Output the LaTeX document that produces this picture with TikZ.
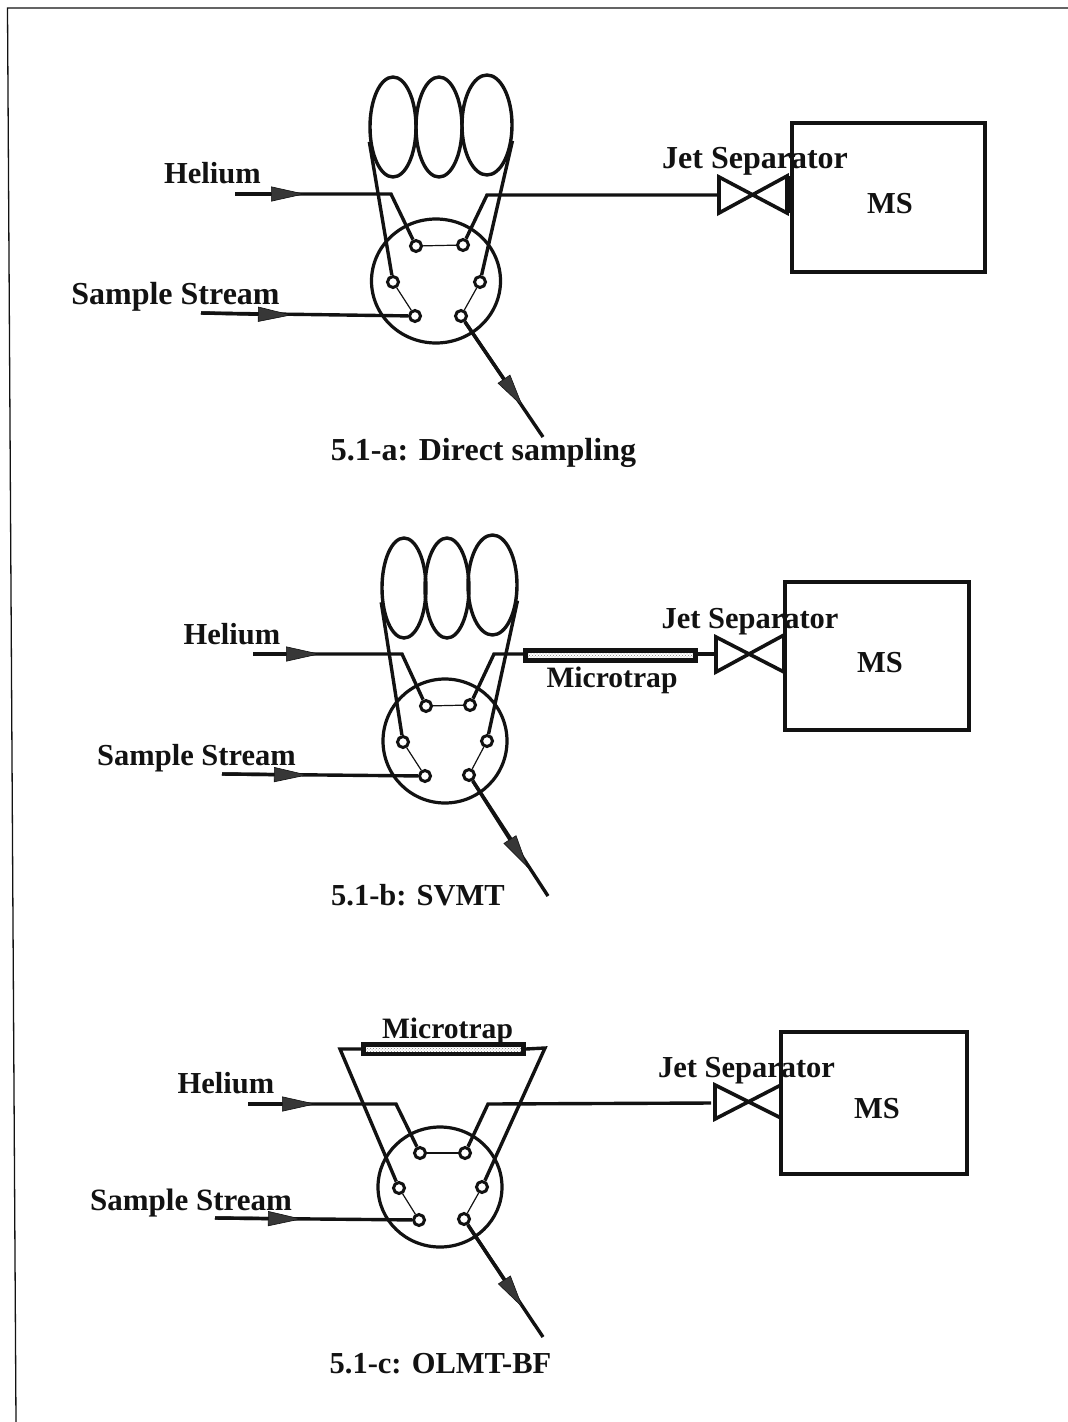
\documentclass[tikz,border=0pt]{standalone}
\usepackage{fontspec}
\setmainfont{Liberation Serif}
\usetikzlibrary{positioning,arrows.meta,shapes.geometric,patterns}
\definecolor{ink}{RGB}{18,18,18}
\definecolor{tipgray}{RGB}{55,55,55}

\begin{document}
\begin{tikzpicture}[x=1pt, y=-1pt, font=\fontsize{30.5}{32}\selectfont\bfseries, text=ink,
  pipe/.style={draw=ink, line width=3.4pt},
  flow/.style={draw=ink, line width=3.4pt, -{Triangle[length=34pt, width=15pt, fill=tipgray, line width=0.6pt]}},
  link/.style={draw=ink, line width=1.2pt},
  loopcoil/.style={draw=ink, line width=3.4pt, ellipse, minimum width=46pt, minimum height=100pt, inner sep=0pt},
  rotor/.style={draw=ink, line width=3.2pt, ellipse, inner sep=0pt},
  port/.style={draw=ink, line width=3pt, circle, fill=white, minimum size=11pt, inner sep=0pt},
  jet/.style={draw=ink, line width=3.6pt, line join=miter},
  jetseat/.style={draw=ink, line width=5pt},
  msbox/.style={draw=ink, line width=3.8pt, inner sep=0pt},
  trap/.style={draw=ink, line width=5pt, pattern=crosshatch dots, pattern color=black!50, inner sep=0pt},
  txt/.style={anchor=base, inner sep=0pt},
  bigtxt/.style={txt, font=\fontsize{32}{34}\selectfont\bfseries},
  smalltxt/.style={txt, font=\fontsize{29.6}{32}\selectfont\bfseries}]
  \useasboundingbox[fill=white] (0,0) rectangle (1068,1422);

  \coordinate (frameTR) at (1068,8);
  \coordinate (frameTL) at (7.5,8);
  \coordinate (frameBL) at (16,1422);
  \draw[ink, line width=1.3pt] (frameTR) -- (frameTL) -- (frameBL);

  \node[loopcoil] (acoilL) at (393,127) {};
  \node[loopcoil] (acoilM) at (439,127) {};
  \node[loopcoil, minimum width=50pt] (acoilR) at (487,125) {};
  \node[rotor, minimum width=129pt, minimum height=124pt] (arotor) at (436,281) {};
  \node[port] (aportA) at (416,246) {};
  \node[port] (aportB) at (463,245) {};
  \node[port] (aportC) at (393,282) {};
  \node[port] (aportD) at (480,282) {};
  \node[port] (aportE) at (415,316) {};
  \node[port] (aportF) at (461,316) {};
  \draw[link] (aportA) -- (aportB);
  \draw[link] (aportC) -- (aportE);
  \draw[link] (aportD) -- (aportF);
  \draw[pipe] (acoilL.212) -- (aportC);
  \draw[pipe] (acoilR.328) -- (aportD);
  \coordinate (aheIn) at (235,194);
  \coordinate (aheTip) at (305,194);
  \coordinate (aheBend) at (391,194);
  \coordinate (asaIn) at (201,313);
  \coordinate (asaTip) at (292,315);
  \coordinate (aoutTip) at (523,407);
  \coordinate (aoutEnd) at (543,437);
  \coordinate (amidBend) at (487,195);
  \coordinate (ajetA) at (719,177);
  \coordinate (ajetB) at (787,213);
  \coordinate (ajetC) at (787,176);
  \coordinate (ajetD) at (719,213);
  \coordinate (ajetIn) at (719,195);
  \draw[pipe] (aheIn) -- (aheBend) -- (aportA);
  \draw[flow] (aheIn) -- (aheTip);
  \draw[pipe] (aportB) -- (amidBend) -- (ajetIn);
  \draw[pipe] (asaIn) -- (aportE);
  \draw[flow] (asaIn) -- (asaTip);
  \draw[pipe] (aportF) -- (aoutEnd);
  \draw[flow] (aportF) -- (aoutTip);
  \node[msbox, minimum width=193pt, minimum height=149pt] (ams) at (888.5,197.5) {};
  \draw[jet] (ajetA) -- (ajetB) -- (ajetC) -- (ajetD) -- cycle;
  \draw[jetseat] (ajetC) -- (ajetB);
  \node[txt] (ahelium) at (212.5,183) {Helium};
  \node[bigtxt] (asample) at (175.5,304) {Sample Stream};
  \node[bigtxt] (acaption) at (483.5,460) {5.1-a: Direct sampling};
  \node[bigtxt] (ajetlabel) at (755,168) {Jet Separator};
  \node[txt] (amslabel) at (890,213) {MS};

  \node[loopcoil, minimum width=44pt] (bcoilL) at (404,588) {};
  \node[loopcoil, minimum width=44pt] (bcoilM) at (447,588) {};
  \node[loopcoil, minimum width=49pt] (bcoilR) at (492.5,585) {};
  \node[rotor, minimum width=124pt, minimum height=124pt] (brotor) at (445,741) {};
  \node[port] (bportA) at (426,706) {};
  \node[port] (bportB) at (470,705) {};
  \node[port] (bportC) at (403,742) {};
  \node[port] (bportD) at (487,741) {};
  \node[port] (bportE) at (425,776) {};
  \node[port] (bportF) at (469,775) {};
  \draw[link] (bportA) -- (bportB);
  \draw[link] (bportC) -- (bportE);
  \draw[link] (bportD) -- (bportF);
  \draw[pipe] (bcoilL.212) -- (bportC);
  \draw[pipe] (bcoilR.328) -- (bportD);
  \node[trap, minimum width=170pt, minimum height=10pt] (btrap) at (610.5,655.5) {};
  \coordinate (bheIn) at (253,654);
  \coordinate (bheTip) at (320,654);
  \coordinate (bheBend) at (402,654);
  \coordinate (bsaIn) at (222,774);
  \coordinate (bsaTip) at (308,775);
  \coordinate (boutTip) at (528,868);
  \coordinate (boutEnd) at (548,896);
  \coordinate (bmidBend) at (494,654);
  \coordinate (bjetA) at (716,637);
  \coordinate (bjetB) at (784,672);
  \coordinate (bjetC) at (784,635);
  \coordinate (bjetD) at (716,672);
  \coordinate (bjetIn) at (716,654);
  \draw[pipe] (bheIn) -- (bheBend) -- (bportA);
  \draw[flow] (bheIn) -- (bheTip);
  \draw[pipe] (bportB) -- (bmidBend) -- (btrap.west |- bmidBend);
  \draw[pipe] (btrap.east |- bjetIn) -- (bjetIn);
  \draw[pipe] (bsaIn) -- (bportE);
  \draw[flow] (bsaIn) -- (bsaTip);
  \draw[pipe] (bportF) -- (boutEnd);
  \draw[flow] (bportF) -- (boutTip);
  \node[msbox, minimum width=184pt, minimum height=148pt] (bms) at (877,656) {};
  \draw[jet] (bjetA) -- (bjetB) -- (bjetC) -- (bjetD) -- cycle;
  \draw[jetseat] (bjetC) -- (bjetB);
  \node[txt] (bhelium) at (232,644) {Helium};
  \node[txt] (bsample) at (196.5,765) {Sample Stream};
  \node[txt] (bcaption) at (418,905) {5.1-b: SVMT};
  \node[txt] (bjetlabel) at (750,628) {Jet Separator};
  \node[txt] (bmslabel) at (880,672) {MS};
  \node[smalltxt] (btraplabel) at (612,687) {Microtrap};

  \node[rotor, minimum width=124pt, minimum height=120pt] (crotor) at (440,1187) {};
  \node[port] (cportA) at (420,1153) {};
  \node[port] (cportB) at (465,1153) {};
  \node[port] (cportC) at (399,1188) {};
  \node[port] (cportD) at (482,1187) {};
  \node[port] (cportE) at (419,1220) {};
  \node[port] (cportF) at (464,1219) {};
  \draw[link] (cportA) -- (cportB);
  \draw[link] (cportC) -- (cportE);
  \draw[link] (cportD) -- (cportF);
  \node[trap, line width=4.5pt, minimum width=160pt, minimum height=9.5pt] (ctrap) at (443.5,1049) {};
  \coordinate (ctrapL) at (340,1049);
  \coordinate (ctrapR) at (545,1048);
  \draw[pipe] (ctrap.west) -- (ctrapL) -- (cportC);
  \draw[pipe] (ctrap.east) -- (ctrapR) -- (cportD);
  \coordinate (cheIn) at (248,1104);
  \coordinate (cheTip) at (316,1104);
  \coordinate (cheBend) at (396,1104);
  \coordinate (csaIn) at (215,1218);
  \coordinate (csaTip) at (302,1219);
  \coordinate (coutTip) at (523,1308);
  \coordinate (coutEnd) at (543,1337);
  \coordinate (cmidBend) at (488,1104);
  \coordinate (cjetA) at (715,1085);
  \coordinate (cjetB) at (781,1118);
  \coordinate (cjetC) at (781,1085);
  \coordinate (cjetD) at (715,1119);
  \coordinate (cjetIn) at (711,1103);
  \draw[pipe] (cheIn) -- (cheBend) -- (cportA);
  \draw[flow] (cheIn) -- (cheTip);
  \draw[pipe] (cportB) -- (cmidBend) -- (cjetIn);
  \draw[pipe] (csaIn) -- (cportE);
  \draw[flow] (csaIn) -- (csaTip);
  \draw[pipe] (cportF) -- (coutEnd);
  \draw[flow] (cportF) -- (coutTip);
  \node[msbox, minimum width=186pt, minimum height=142pt] (cms) at (874,1103) {};
  \draw[jet] (cjetA) -- (cjetB) -- (cjetC) -- (cjetD) -- cycle;
  \node[txt] (chelium) at (226,1093) {Helium};
  \node[txt, font=\fontsize{31}{33}\selectfont\bfseries] (csample) at (191,1210) {Sample Stream};
  \node[txt] (ccaption) at (440.5,1373) {5.1-c: OLMT-BF};
  \node[txt] (cjetlabel) at (746.5,1077) {Jet Separator};
  \node[txt] (cmslabel) at (877,1118) {MS};
  \node[smalltxt] (ctraplabel) at (447.5,1038) {Microtrap};
\end{tikzpicture}
\end{document}
